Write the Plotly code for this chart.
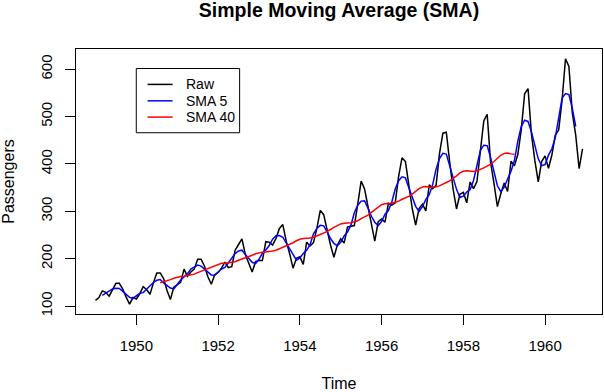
import numpy as np
import pandas as pd
import plotly.graph_objects as go

# AirPassengers, monthly totals (thousands), Jan 1949 - Dec 1960
START_YEAR = 1949
passengers = [
    112, 118, 132, 129, 121, 135, 148, 148, 136, 119, 104, 118,
    115, 126, 141, 135, 125, 149, 170, 170, 158, 133, 114, 140,
    145, 150, 178, 163, 172, 178, 199, 199, 184, 162, 146, 166,
    171, 180, 193, 181, 183, 218, 230, 242, 209, 191, 172, 194,
    196, 196, 236, 235, 229, 243, 264, 272, 237, 211, 180, 201,
    204, 188, 235, 227, 234, 264, 302, 293, 259, 229, 203, 229,
    242, 233, 267, 269, 270, 315, 364, 347, 312, 274, 237, 278,
    284, 277, 317, 313, 318, 374, 413, 405, 355, 306, 271, 306,
    315, 301, 356, 348, 355, 422, 465, 467, 404, 347, 305, 336,
    340, 318, 362, 348, 363, 435, 491, 505, 404, 359, 310, 337,
    360, 342, 406, 396, 420, 472, 548, 559, 463, 407, 362, 405,
    417, 391, 419, 461, 472, 535, 622, 606, 508, 461, 390, 432,
]

x_ticks = [1950, 1952, 1954, 1956, 1958, 1960]
y_ticks = [100, 200, 300, 400, 500, 600]

series_names = ["Raw", "SMA 5", "SMA 40"]
series_colors = ["#000000", "#0000FF", "#FF0000"]

FONT = "Liberation Sans, Arial, Helvetica, sans-serif"

raw = pd.Series(passengers, dtype=float)
time = START_YEAR + np.arange(len(raw)) / 12

# centred moving averages (same alignment as stats::filter(sides = 2))
sma5 = raw.rolling(5).mean().shift(-2)
sma40 = raw.rolling(40).mean().shift(-20)

fig = go.Figure()
for name, values, color in zip(series_names, [raw, sma5, sma40], series_colors):
    fig.add_trace(
        go.Scatter(
            x=time,
            y=values,
            mode="lines",
            name=name,
            line=dict(color=color, width=1.5),
            showlegend=False,
        )
    )

# R-style legend box drawn by hand
legend_rows = [0.8664, 0.8044, 0.743]
fig.add_shape(
    type="rect", xref="paper", yref="paper",
    x0=0.1146, x1=0.3111, y0=0.684, y1=0.9263,
    line=dict(color="#000000", width=1), fillcolor="white",
)
for name, color, yy in zip(series_names, series_colors, legend_rows):
    fig.add_shape(
        type="line", xref="paper", yref="paper",
        x0=0.1361, x1=0.1836, y0=yy, y1=yy,
        line=dict(color=color, width=1.5),
    )
    fig.add_annotation(
        xref="paper", yref="paper", x=0.2046, y=yy,
        text=name, showarrow=False, xanchor="left", yanchor="middle",
        font=dict(family=FONT, size=14, color="#000000"),
    )

axis_common = dict(
    showgrid=False,
    zeroline=False,
    showline=True,
    mirror=True,
    linecolor="#000000",
    linewidth=1,
    ticks="outside",
    ticklen=10,
    tickcolor="#000000",
    tickfont=dict(family=FONT, size=15, color="#000000"),
    automargin=False,
)

fig.update_xaxes(
    range=[1948.523, 1961.393],
    tickvals=x_ticks,
    ticktext=[str(v) for v in x_ticks],
    ticklabelstandoff=8,
    title=dict(text="Time", font=dict(family=FONT, size=16, color="#000000"), standoff=29),
    **axis_common,
)
fig.update_yaxes(
    range=[83.28, 642.72],
    tickvals=y_ticks,
    ticktext=[str(v) for v in y_ticks],
    tickangle=-90,
    ticklabelstandoff=7,
    title=dict(text="Passengers", font=dict(family=FONT, size=16, color="#000000"), standoff=20),
    **axis_common,
)

fig.update_layout(
    template="none",
    width=604,
    height=392,
    margin=dict(l=76, r=2, t=49, b=78),
    paper_bgcolor="white",
    plot_bgcolor="white",
    title=dict(
        text="<b>Simple Moving Average (SMA)</b>",
        x=339 / 604,
        xanchor="center",
        y=1 - 10 / 392,
        yanchor="middle",
        font=dict(family=FONT, size=19.5, color="#000000"),
    ),
    showlegend=False,
)

fig.write_html(
    "out.html",
    config={"displayModeBar": False},
    post_script="document.body.style.margin = '0';",
)
